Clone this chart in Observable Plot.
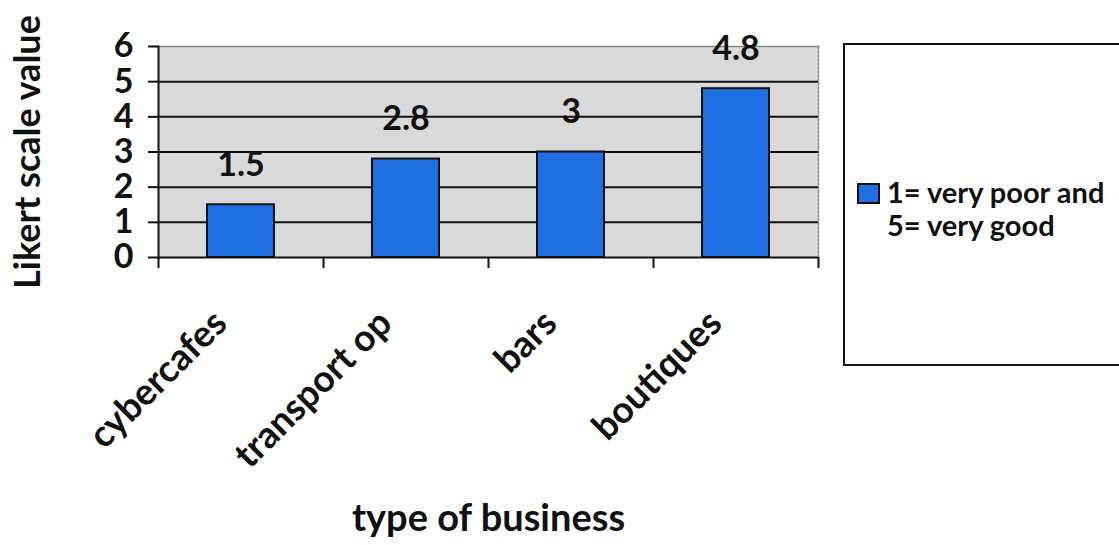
<!DOCTYPE html>
<html>
<head>
<meta charset="utf-8">
<script src="https://cdn.jsdelivr.net/npm/d3@7"></script>
<script src="https://cdn.jsdelivr.net/npm/@observablehq/plot@0.6"></script>
<style>
  html, body { margin: 0; padding: 0; background: #fff; overflow: hidden; }
  #wrap { position: relative; width: 1119px; height: 545px; font-family: Lato, "Open Sans", sans-serif; color: #111; }
  #legend {
    position: absolute; left: 843px; top: 43px; width: 300px; height: 323px;
    box-sizing: border-box; border: 2px solid #111; background: #fff;
  }
  #legend .item { position: absolute; left: 12px; top: 130px; display: flex; align-items: flex-start; }
  #legend .swatch { width: 19px; height: 17px; background: #1f6fe3; border: 2px solid #111; margin-top: 8px; margin-right: 7px; }
  #legend .label { font-size: 29px; font-weight: bold; line-height: 33px; }
</style>
</head>
<body>
<div id="wrap"></div>
<script>
// Rating of each type of business on a 1–5 Likert scale
const categories = ["cybercafes", "transport op", "bars", "boutiques"];
const values = [1.5, 2.8, 3, 4.8];
const yTicks = [0, 1, 2, 3, 4, 5, 6];
const gridValues = [1, 2, 3, 4, 5];
const legendLines = ["1= very poor and", "5= very good"];
const yTitle = "Likert scale value";
const xTitle = "type of business";

const data = categories.map((c, i) => ({business: c, value: values[i]}));

const width = 1119, height = 545;
const marginLeft = 158, marginRight = 301, marginTop = 46, marginBottom = 288;
const bandWidth = (width - marginLeft - marginRight) / categories.length;

const chart = Plot.plot({
  width, height, marginLeft, marginRight, marginTop, marginBottom,
  style: {fontFamily: "Lato, 'Open Sans', sans-serif", background: "transparent", color: "#111"},
  x: {domain: categories, padding: 0, axis: null},
  y: {domain: [0, 6], axis: null},
  marks: [
    // grey plot area
    Plot.frame({fill: "#d9d9d9", stroke: null}),
    Plot.frame({anchor: "top", stroke: "#8a8a8a", strokeWidth: 1.5}),
    Plot.frame({anchor: "right", stroke: "#8a8a8a", strokeWidth: 1.5, strokeDasharray: "2,2"}),
    // horizontal gridlines
    Plot.ruleY(gridValues, {stroke: "#111", strokeWidth: 2}),
    // bars
    Plot.barY(data, {
      x: "business", y: "value",
      fill: "#1f6fe3", stroke: "#111", strokeWidth: 2,
      insetLeft: 49, insetRight: 49
    }),
    // value labels
    Plot.text(data, {
      x: "business", y: "value", text: d => String(d.value),
      dy: -40, fontSize: 34, fontWeight: "bold", fill: "#111"
    }),
    // axes lines
    Plot.ruleY([0], {stroke: "#111", strokeWidth: 2}),
    Plot.frame({anchor: "left", stroke: "#111", strokeWidth: 2}),
    Plot.axisY({
      ticks: yTicks, tickSize: 10, tickPadding: 15, tickFormat: d => String(d),
      fontSize: 34, fontWeight: "bold", strokeWidth: 2, label: null
    }),
    // category boundary ticks on the x axis
    Plot.axisX({tickSize: 11, tickFormat: () => "", dx: -bandWidth / 2, strokeWidth: 2, label: null}),
    Plot.axisX({ticks: [categories[categories.length - 1]], tickSize: 11, tickFormat: () => "", dx: bandWidth / 2, strokeWidth: 2, label: null}),
    // rotated category labels
    Plot.text(categories, {
      x: d => d, frameAnchor: "bottom", rotate: -45,
      textAnchor: "end", lineAnchor: "bottom", dx: -12, dy: 68,
      fontSize: 37, fontWeight: "bold", fill: "#111"
    }),
    // axis titles
    Plot.text([yTitle], {
      frameAnchor: "left", rotate: -90, dx: -130, textAnchor: "middle",
      fontSize: 36, fontWeight: "bold", fill: "#111"
    }),
    Plot.text([xTitle], {
      frameAnchor: "bottom", lineAnchor: "bottom", dy: 273, textAnchor: "middle",
      fontSize: 38, fontWeight: "bold", fill: "#111"
    })
  ]
});

const wrap = document.getElementById("wrap");
wrap.appendChild(chart);

// legend box on the right
const legend = document.createElement("div");
legend.id = "legend";
const item = document.createElement("div");
item.className = "item";
const swatch = document.createElement("div");
swatch.className = "swatch";
const label = document.createElement("div");
label.className = "label";
label.innerHTML = legendLines.join("<br>");
item.appendChild(swatch);
item.appendChild(label);
legend.appendChild(item);
wrap.appendChild(legend);
</script>
</body>
</html>
